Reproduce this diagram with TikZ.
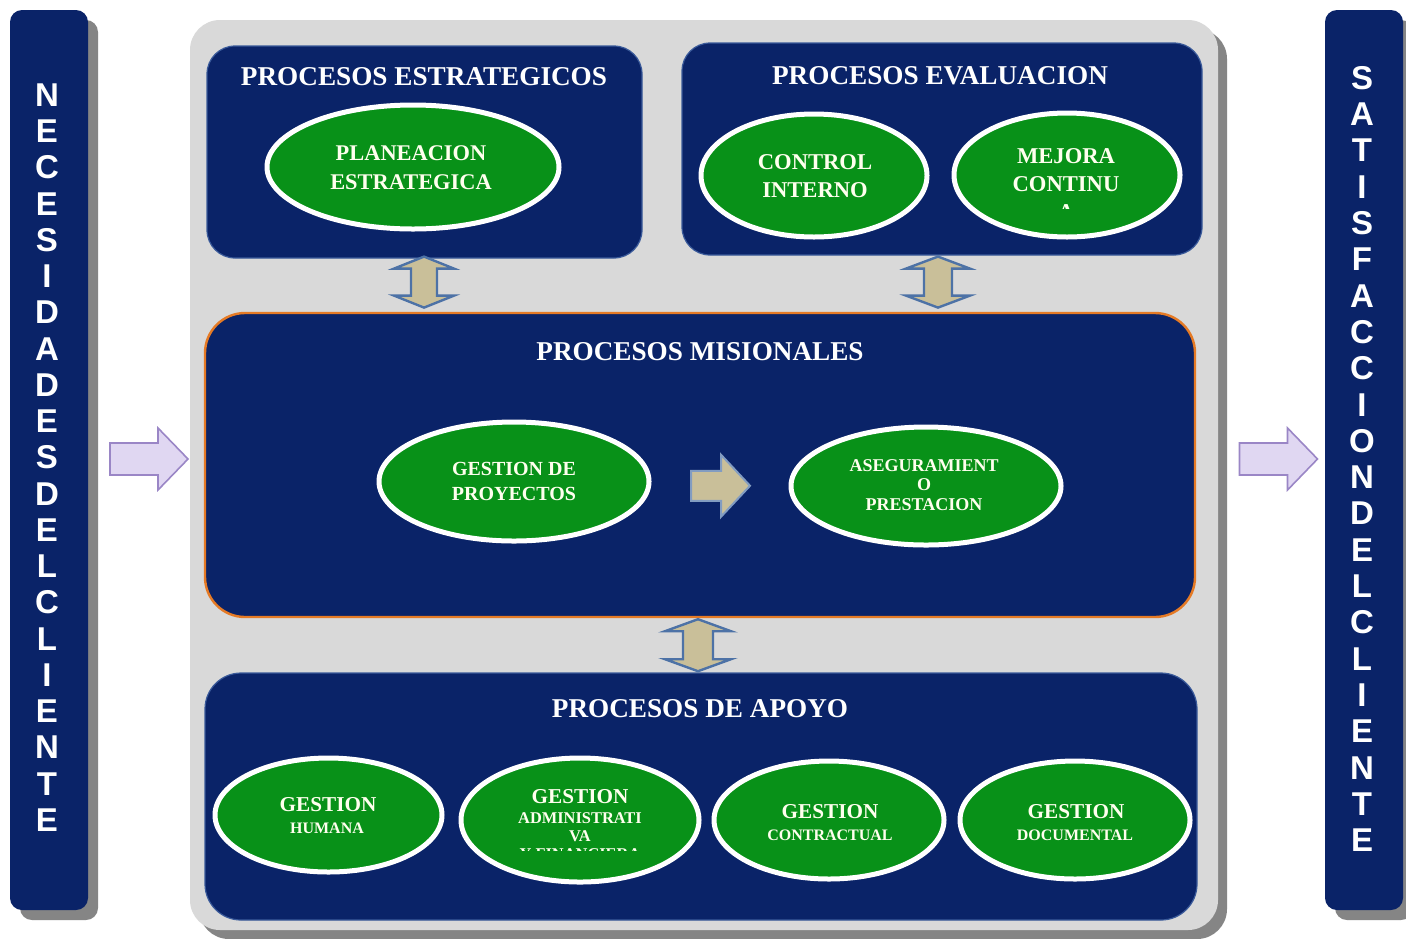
\documentclass[tikz,border=0pt]{standalone}
\usepackage{fontspec}
\setmainfont{Liberation Serif}
\newfontfamily\barfont{Liberation Sans}
\usetikzlibrary{shapes.geometric,calc}
\definecolor{navy}{HTML}{0A2368}
\definecolor{navyedge}{HTML}{3A5A9A}
\definecolor{grn}{HTML}{089118}
\definecolor{panelgray}{HTML}{D9D9D9}
\definecolor{shadowgray}{HTML}{858585}
\definecolor{tanfill}{HTML}{C9BF99}
\definecolor{arrowblue}{HTML}{4D72A6}
\definecolor{lav}{HTML}{E0D7F2}
\definecolor{lavborder}{HTML}{9A86C6}
\definecolor{orng}{HTML}{E57A25}
\definecolor{etxt}{HTML}{FFFFEE}
\begin{document}
\begin{tikzpicture}[x=0.5pt,y=-0.5pt,
  barbox/.style={rectangle, rounded corners=6pt, fill=navy, minimum width=39pt, minimum height=450pt, inner sep=0},
  panelbox/.style={rectangle, rounded corners=15pt, fill=panelgray, minimum width=514pt, minimum height=455pt, inner sep=0},
  procbox/.style={rectangle, rounded corners=14pt, fill=navy, draw=navyedge, line width=0.6pt, inner sep=0},
  ell/.style={ellipse, fill=grn, draw=white, line width=2.5pt, inner sep=0},
  etext/.style={text=etxt, align=center, inner sep=0, font=\bfseries\fontsize{#1}{#1}\selectfont},
  etextml/.style 2 args={text=etxt, align=center, inner sep=0, font=\bfseries\fontsize{#1}{#2}\selectfont},
  titletext/.style={text=white, inner sep=0, font=\bfseries\fontsize{13.6}{16}\selectfont},
  barletter/.style={text=white, inner sep=0, font=\barfont\bfseries\fontsize{16.5}{18}\selectfont},
  dblarrow/.style={fill=tanfill, draw=arrowblue, line width=1.2pt, line join=miter},
  sidearrow/.style={fill=lav, draw=lavborder, line width=0.8pt, line join=miter}
]
\useasboundingbox (0,0) rectangle (1406,938);
\fill[white] (0,0) rectangle (1406,938);

% side bars with shadows
\node[barbox, fill=shadowgray] (nbs) at (59,470) {};
\node[barbox] (nb) at (49,460) {};
\node[barbox, fill=shadowgray] (sbs) at (1374,470) {};
\node[barbox] (sb) at (1364,460) {};

\foreach \l [count=\i from 0] in {N,E,C,E,S,I,D,A,D,E,S,D,E,L,C,L,I,E,N,T,E}
  \node[barletter] (nl\i) at (47,95+36.25*\i) {\l};
\foreach \l [count=\i from 0] in {S,A,T,I,S,F,A,C,C,I,O,N,D,E,L,C,L,I,E,N,T,E}
  \node[barletter] (sl\i) at (1362,78+36.3*\i) {\l};

% central panel
\node[panelbox, fill=shadowgray] (panels) at (713,484) {};
\node[panelbox] (panel) at (704,475) {};

% process boxes
\node[procbox, minimum width=217.5pt, minimum height=106pt] (ps) at (424.5,152) {};
\node[procbox, minimum width=260pt, minimum height=106pt] (pe) at (942,149) {};
\node[procbox, rounded corners=20pt, draw=orng, line width=1.2pt, minimum width=495pt, minimum height=152pt] (pm) at (700,465) {};
\node[procbox, rounded corners=18pt, minimum width=496pt, minimum height=123.5pt] (pa) at (701,796.5) {};

\node[titletext] (tps) at (424,77) {PROCESOS ESTRATEGICOS};
\node[titletext] (tpe) at (940,76) {PROCESOS EVALUACION};
\node[titletext] (tpm) at (700,352) {PROCESOS MISIONALES};
\node[titletext] (tpa) at (700,709) {PROCESOS DE APOYO};

% ellipses
\node[ell, minimum width=146pt, minimum height=62pt] (pl) at (413,167) {};
\node[ell, minimum width=113pt, minimum height=61.5pt] (ci) at (814,175.5) {};
\node[ell, minimum width=113pt, minimum height=62pt] (mc) at (1067,175) {};
\node[ell, minimum width=135pt, minimum height=59.5pt] (gp) at (514,481.5) {};
\node[ell, minimum width=135pt, minimum height=59pt] (as) at (926,486) {};
\node[ell, minimum width=113.5pt, minimum height=57pt] (gh) at (328.5,815) {};
\node[ell, minimum width=119pt, minimum height=62pt] (gf) at (580,820) {};
\node[ell, minimum width=115pt, minimum height=59pt] (gc) at (829,820) {};
\node[ell, minimum width=115pt, minimum height=59pt] (gd) at (1075,820) {};

% ellipse texts
\node[etextml={11.2}{14.5}] (tpl) at (411,168) {PLANEACION\\ESTRATEGICA};
\node[etextml={11.3}{14}] (tci) at (815,176) {CONTROL\\INTERNO};
\begin{scope}
  \clip (950,120) rectangle (1180,208);
  \node[etextml={11.3}{14}] (tmc) at (1066,184) {MEJORA\\CONTINU\\A};
\end{scope}
\node[etextml={10}{12.5}] (tgp) at (514,481) {GESTION DE\\PROYECTOS};
\node[etextml={9}{9.75}] (tas) at (924,485) {ASEGURAMIENT\\O\\PRESTACION};

\node[etext=10.6] (tgh1) at (328,805) {GESTION};
\node[etext=8] (tgh2) at (327,828) {HUMANA};
\node[etext=10.6] (tgf1) at (580,797) {GESTION};
\begin{scope}
  \clip (470,805) rectangle (690,850);
  \node[etextml={8.2}{9}] (tgf2) at (580,836) {ADMINISTRATI\\VA\\Y FINANCIERA};
\end{scope}
\node[etext=10.6] (tgc1) at (830,812) {GESTION};
\node[etext=8] (tgc2) at (830,835) {CONTRACTUAL};
\node[etext=10.6] (tgd1) at (1076,812) {GESTION};
\node[etext=8] (tgd2) at (1075,835) {DOCUMENTAL};

% double block arrows between boxes
\draw[dblarrow] ($(ps.south)+(-0.5,-2)$) -- ++(30,12) -- ++(-17,0) -- ++(0,27) -- ++(17,0)
  -- ++(-30,12) -- ++(-30,-12) -- ++(17,0) -- ++(0,-27) -- ++(-17,0) -- cycle;
\draw[dblarrow] ($(pe.south)+(-4,1)$) -- ++(32,12) -- ++(-18,0) -- ++(0,27) -- ++(18,0)
  -- ++(-32,12) -- ++(-32,-12) -- ++(18,0) -- ++(0,-27) -- ++(-18,0) -- cycle;
\draw[dblarrow] ($(pm.south)+(-2,1)$) -- ++(33,12) -- ++(-18,0) -- ++(0,28) -- ++(18,0)
  -- ++(-33,12) -- ++(-33,-12) -- ++(18,0) -- ++(0,-28) -- ++(-18,0) -- cycle;

% arrow inside misionales
\coordinate (mid) at ($(gp.east)!0.5!(as.west)+(0,2)$);
\draw[fill=tanfill, draw=arrowblue!70!white, line width=1pt, line join=miter]
  ($(mid)+(-29,-15)$) -- ++(30,0) -- ++(0,-16) -- ++(29,31) -- ++(-29,31) -- ++(0,-16) -- ++(-30,0) -- cycle;

% side arrows
\coordinate (la) at ($(nb.east)!0.5!(panel.west)+(10,-8.5)$);
\draw[sidearrow] ($(la)+(-39,-16)$) -- ++(48,0) -- ++(0,-15) -- ++(30,31) -- ++(-30,31) -- ++(0,-15) -- ++(-48,0) -- cycle;
\coordinate (ra) at ($(panel.east)!0.5!(sb.west)+(7,-8.5)$);
\draw[sidearrow] ($(ra)+(-39,-16)$) -- ++(48,0) -- ++(0,-15) -- ++(30,31) -- ++(-30,31) -- ++(0,-15) -- ++(-48,0) -- cycle;
\end{tikzpicture}
\end{document}
